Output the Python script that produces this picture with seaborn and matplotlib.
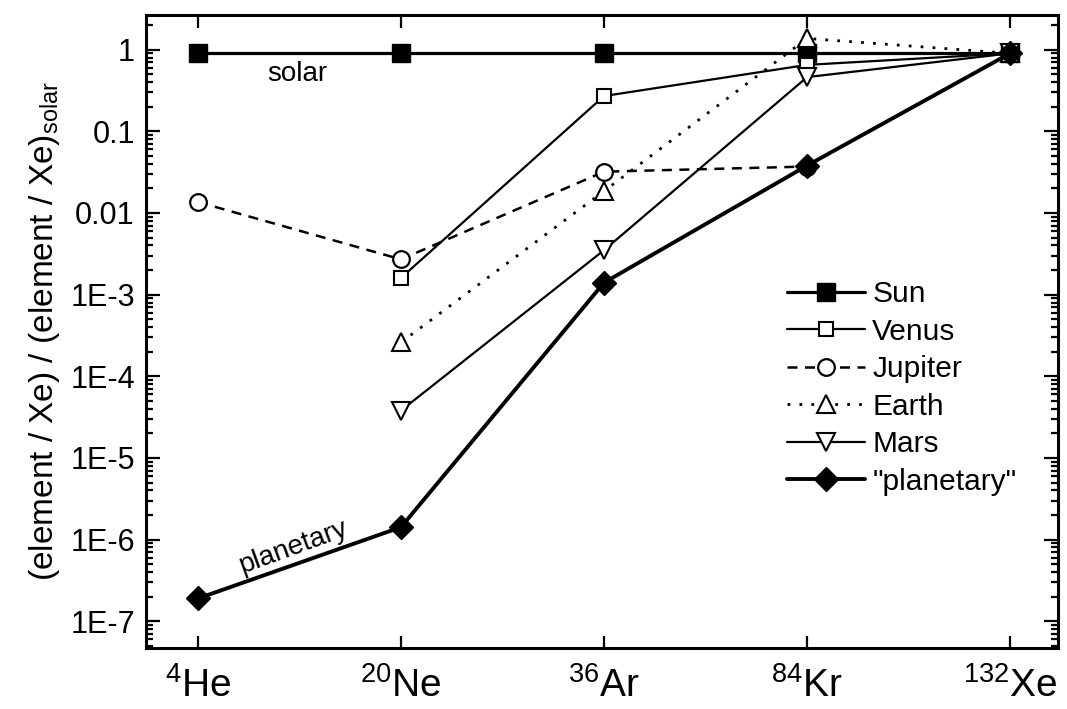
import numpy as np
import matplotlib
matplotlib.use("Agg")
import matplotlib.pyplot as plt
from matplotlib import font_manager
from matplotlib.ticker import FixedLocator, LogLocator, NullFormatter, NullLocator
import seaborn as sns

# Noble-gas abundance patterns, normalized to Xe and to the solar composition
isotopes = ["He", "Ne", "Ar", "Kr", "Xe"]
mass_numbers = ["4", "20", "36", "84", "132"]
x_pos = [0, 1, 2, 3, 4]

sun = [0.9, 0.9, 0.9, 0.9, 0.9]
venus = [None, 1.6e-3, 0.27, 0.65, 0.9]
jupiter = [0.0136, 2.7e-3, 0.032, 0.037, None]
earth = [None, 2.6e-4, 0.0185, 1.37, 0.9]
mars = [None, 3.8e-5, 3.5e-3, 0.46, 0.9]
planetary = [1.9e-7, 1.42e-6, 1.4e-3, 0.038, 0.9]

ytick_values = [1, 0.1, 0.01, 1e-3, 1e-4, 1e-5, 1e-6, 1e-7]
ytick_labels = ["1", "0.1", "0.01", "1E-3", "1E-4", "1E-5", "1E-6", "1E-7"]

sns.set_theme(style="ticks")
installed = {f.name for f in font_manager.fontManager.ttflist}
base_font = "Liberation Sans"
narrow_font = "Liberation Sans Narrow" if "Liberation Sans Narrow" in installed else base_font
plt.rcParams["font.family"] = [base_font, "DejaVu Sans"]
plt.rcParams["mathtext.fontset"] = "custom"
plt.rcParams["mathtext.rm"] = base_font
plt.rcParams["mathtext.it"] = base_font
for key in ["text.color", "axes.labelcolor", "xtick.color", "ytick.color",
            "xtick.labelcolor", "ytick.labelcolor", "axes.edgecolor"]:
    plt.rcParams[key] = "black"

fig = plt.figure(figsize=(10.67, 7.09), dpi=100)
ax = fig.add_axes([0.1368, 0.086, 0.9916 - 0.1368, 0.9788 - 0.086])


def draw(values, **style):
    xs = [x for x, v in zip(x_pos, values) if v is not None]
    ys = [v for v in values if v is not None]
    sns.lineplot(x=xs, y=ys, ax=ax, color="black", sort=False,
                 markeredgecolor="black", **style)


draw(sun, marker="s", markersize=13.5, markerfacecolor="black", linewidth=2.3,
     markeredgewidth=1, label="Sun")
draw(venus, marker="s", markersize=9.5, markerfacecolor="white", linewidth=1.6,
     markeredgewidth=1.5, label="Venus")
draw(jupiter, marker="o", markersize=12, markerfacecolor="white", linewidth=1.8,
     markeredgewidth=1.6, dashes=(4, 3), label="Jupiter")
draw(earth, marker="^", markersize=12.5, markerfacecolor="white", linewidth=2.0,
     markeredgewidth=1.5, dashes=(1, 3.3), label="Earth")
draw(mars, marker="v", markersize=12.5, markerfacecolor="white", linewidth=1.6,
     markeredgewidth=1.5, label="Mars")
draw(planetary, marker="D", markersize=12.5, markerfacecolor="black", linewidth=2.8,
     markeredgewidth=1, label='"planetary"')

ax.set_yscale("log")
ax.set_ylim(4.7e-8, 2.65)
ax.set_xlim(-0.256, 4.236)

ax.yaxis.set_major_locator(FixedLocator(ytick_values))
ax.set_yticks(ytick_values, ytick_labels)
ax.yaxis.set_minor_locator(LogLocator(base=10, subs=np.arange(2, 10), numticks=20))
ax.yaxis.set_minor_formatter(NullFormatter())
ax.set_xticks(x_pos, [rf"$^{{{m}}}$" + iso for m, iso in zip(mass_numbers, isotopes)])
ax.xaxis.set_minor_locator(NullLocator())

for lbl in ax.get_xticklabels():
    lbl.set_fontfamily([narrow_font, "DejaVu Sans"])
    lbl.set_fontsize(28)
for lbl in ax.get_yticklabels():
    lbl.set_fontsize(22)

ax.tick_params(axis="both", which="both", direction="in", top=True, right=True,
               color="black", labelcolor="black")
ax.tick_params(axis="y", which="major", length=10, width=1.6, pad=8)
ax.tick_params(axis="y", which="minor", length=5, width=1.6)
ax.tick_params(axis="x", which="major", length=9, width=1.6, pad=14)
for spine in ax.spines.values():
    spine.set_visible(True)
    spine.set_linewidth(2.2)
    spine.set_color("black")

ax.set_ylabel(r"(element / Xe) / (element / Xe)$_{\rm solar}$", fontsize=24, labelpad=6)
ax.set_xlabel("")

ax.text(0.49, 0.5, "solar", fontsize=20, ha="center", va="center")
ax.text(0.47, 8.0e-7, "planetary", fontsize=20, ha="center", va="center", rotation=20)

ax.legend(loc="upper left", bbox_to_anchor=(0.69, 0.6), frameon=False, fontsize=21.5,
          handlelength=2.6, handletextpad=0.25, labelspacing=0.32, borderaxespad=0)

fig.savefig("out.png", dpi=100, facecolor="white")
